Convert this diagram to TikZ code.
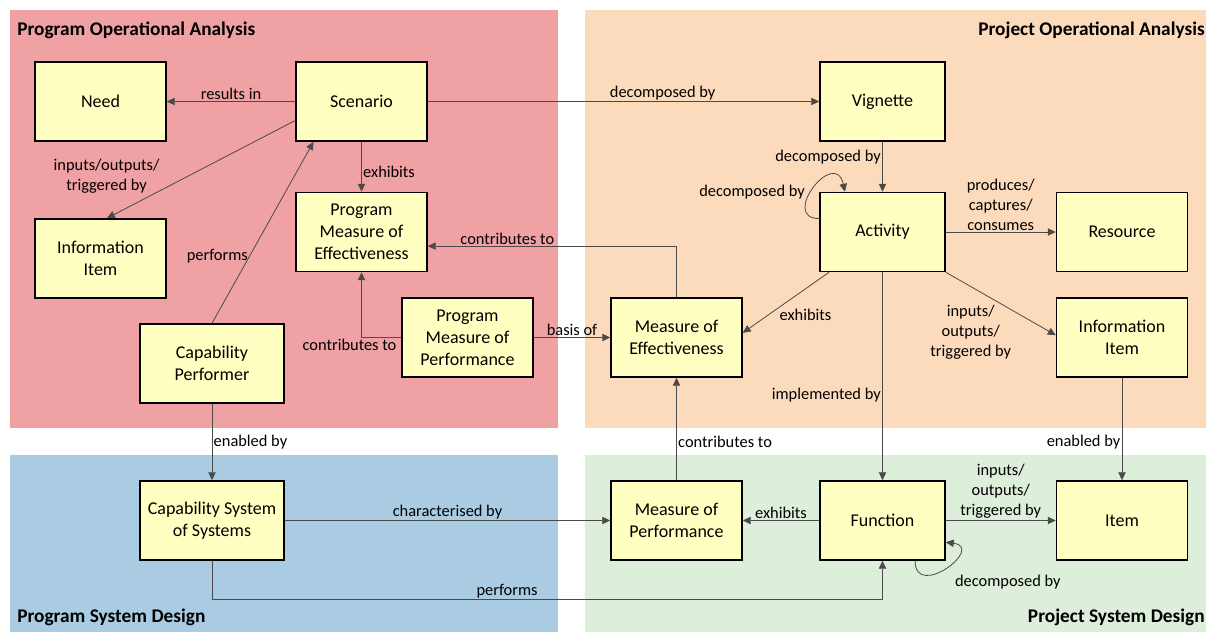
\documentclass[tikz,border=0pt]{standalone}
\usepackage{fontspec}
\setmainfont{Carlito}
\usepackage{tikz}
\usetikzlibrary{arrows.meta}
\definecolor{poaRed}{HTML}{EFA1A4}
\definecolor{proaPeach}{HTML}{FCDBBC}
\definecolor{psdBlue}{HTML}{AACCE3}
\definecolor{prsdGreen}{HTML}{DDEEDA}
\definecolor{boxYellow}{HTML}{FFFFC1}
\definecolor{linkGrey}{HTML}{4A4A4A}
\tikzset{>={Triangle[length=6pt,width=5.5pt]}}
\tikzset{
    box/.style={draw=black, line width=1.1pt, fill=boxYellow, minimum width=98.25pt,
        minimum height=59.25pt, inner sep=0pt, align=center,
        font=\fontsize{13.5}{16.5}\selectfont},
    narrowbox/.style={box, minimum width=93.75pt},
    widebox/.style={box, minimum width=108pt},
    link/.style={draw=linkGrey, line width=0.6pt, ->},
    lbl/.style={font=\fontsize{12.3}{15}\selectfont, inner sep=1pt, align=center},
    zonetitle/.style={font=\fontsize{14.5}{17}\selectfont\bfseries, inner sep=0pt}
}

\begin{document}
\begin{tikzpicture}[x=0.75pt,y=-0.75pt]
    \useasboundingbox (0,0) rectangle (1206,632);
    % the four zones
    \fill[poaRed] (10,10) rectangle (558,428);
    \fill[proaPeach] (585,10) rectangle (1206,428);
    \fill[psdBlue] (10,455) rectangle (558,632);
    \fill[prsdGreen] (585,455) rectangle (1206,632);
    \node[zonetitle, anchor=west] (poaTitle) at (17,30) {Program Operational Analysis};
    \node[zonetitle, anchor=east] (proaTitle) at (1205,30) {Project Operational Analysis};
    \node[zonetitle, anchor=west] (psdTitle) at (17,617) {Program System Design};
    \node[zonetitle, anchor=east] (prsdTitle) at (1205,617) {Project System Design};

    % program side
    \node[box] (need) at (100.5,101.5) {Need};
    \node[box] (scen) at (361.5,101.5) {Scenario};
    \node[box] (infoL) at (100.5,258.5) {Information\\Item};
    \node[box] (pmoe) at (361.5,232) {Program\\Measure of\\Effectiveness};
    \node[box] (pmop) at (467.5,337.5) {Program\\Measure of\\Performance};
    \node[widebox] (capp) at (212,363.5) {Capability\\Performer};
    \node[widebox] (csos) at (212,520.5) {Capability System\\of Systems};

    % project side
    \node[narrowbox] (vign) at (882.5,101.5) {Vignette};
    \node[narrowbox] (act) at (882.5,232) {Activity};
    \node[box] (res) at (1122,232) {Resource};
    \node[box] (moe) at (676.5,337.5) {Measure of\\Effectiveness};
    \node[box] (infoR) at (1122,337.5) {Information\\Item};
    \node[box] (mop) at (676.5,520.5) {Measure of\\Performance};
    \node[narrowbox] (func) at (882.5,520.5) {Function};
    \node[box] (item) at (1122,520.5) {Item};

    % links
    \draw[link] (scen) -- node[lbl, above] {results in} (need);
    \draw[link] (scen.196) -- node[lbl, pos=0.57, anchor=east, xshift=-20pt] {inputs/outputs/\\triggered by} (infoL.81);
    \draw[link] (capp.north) -- node[lbl, pos=0.37, anchor=east] {performs} (scen.220);
    \draw[link] (scen) -- node[lbl, right, pos=0.6] {exhibits} (pmoe);
    \draw[link] (moe.north) |- node[lbl, above, pos=0.84] {contributes to} (pmoe.-12);
    \draw[link] (pmop.west) -| node[lbl, below, pos=0.5, xshift=-9pt] {contributes to} (pmoe.south);
    \draw[link] (pmop) -- node[lbl, above] {basis of} (moe);
    \draw[link] (scen) -- node[lbl, above, pos=0.6] {decomposed by} (vign);
    \draw[link] (vign) -- node[lbl, left, pos=0.3] {decomposed by} (act);
    \draw[link] (act.168) .. controls +(-40,0) and +(-10,-45) .. node[lbl, left, pos=0.45, xshift=-3pt] {decomposed by} (act.133);
    \draw[link] (act) -- node[lbl, above] {produces/\\captures/\\consumes} (res);
    \draw[link] (act.217) -- node[lbl, right, pos=0.7, xshift=7pt] {exhibits} (moe.4);
    \draw[link] (act.south east) -- node[lbl, below left, pos=0.5, xshift=9pt] {inputs/\\outputs/\\triggered by} (infoR.178);
    \draw[link] (act) -- node[lbl, left, pos=0.59] {implemented by} (func);
    \draw[link] (infoR) -- node[lbl, left, pos=0.625] {enabled by} (item);
    \draw[link] (mop) -- node[lbl, right, pos=0.375] {contributes to} (moe);
    \draw[link] (func) -- node[lbl, above] {exhibits} (mop);
    \draw[link] (func) -- node[lbl, above] {inputs/\\outputs/\\triggered by} (item);
    \draw[link] (func.-51) .. controls +(0,40) and +(40,5) .. node[lbl, below right, pos=0.4, xshift=12pt] {decomposed by} (func.-19);
    \draw[link] (capp) -- node[lbl, right] {enabled by} (csos);
    \draw[link] (csos) -- node[lbl, above] {characterised by} (mop);
    \draw[link] (csos.south) -- ++(0,39) -| node[lbl, above, pos=0.22] {performs} (func.south);
\end{tikzpicture}
\end{document}
